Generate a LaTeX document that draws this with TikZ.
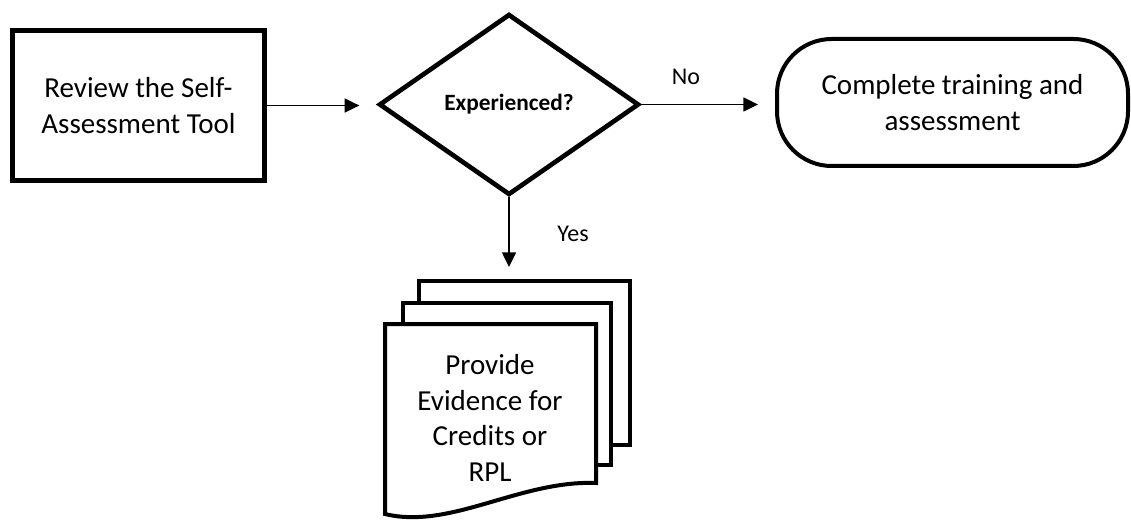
\documentclass[tikz,border=0pt]{standalone}
\usepackage{fontspec}
\setmainfont{Carlito}
\usetikzlibrary{shapes.geometric,arrows.meta}
\begin{document}
\begin{tikzpicture}[x=0.75pt,y=-0.75pt,
  boxtext/.style={font=\fontsize{21.75}{26.6}\selectfont, align=center},
  lbl/.style={font=\fontsize{18}{21}\selectfont},
  conn/.style={line width=1.1pt, -{Triangle[length=11pt,width=10.5pt]}},
  heavy/.style={draw, line width=3.5pt},
  medium/.style={draw, line width=3pt},
]
\useasboundingbox (0,0) rectangle (1131,520);
% process box
\node[heavy, minimum width=189pt, minimum height=112.5pt, inner sep=0pt, boxtext] (review) at (138.5,105.5) {Review the Self-\\Assessment Tool};
% decision
\node[heavy, diamond, minimum width=195pt, minimum height=135.75pt, inner sep=0pt, font=\bfseries\fontsize{17.5}{21}\selectfont] (dia) at (509,104.5) {Experienced?};
% terminal
\node[medium, rounded corners=41pt, minimum width=263.25pt, minimum height=95.25pt, inner sep=0pt, boxtext] (term) at (952.5,102.5) {Complete training and\\assessment};
% multi-document
\node[medium, fill=white, minimum width=158.25pt, minimum height=123pt, inner sep=0pt] (back) at (524.5,363) {};
\node[medium, fill=white, minimum width=156pt, minimum height=121.5pt, inner sep=0pt] (mid) at (507,384) {};
\draw[line width=3pt, fill=white] (385,324) -- (385,514) .. controls (450,530) and (520,480) .. (596,483) -- (596,324) -- cycle;
\node[boxtext] (doc) at (490,418) {Provide\\Evidence for\\Credits or\\RPL};
% labels
\node[lbl, anchor=base] (no) at (686,85) {No};
\node[lbl, anchor=base] (yes) at (573,242) {Yes};
% connectors
\draw[conn, shorten >=13pt] (review.east) -- (review.east -| dia.west);
\draw[conn, shorten >=12.75pt] (dia.east) -- (dia.east -| term.west);
\draw[conn, shorten >=9pt] (dia.south) -- (dia.south |- back.north);
\end{tikzpicture}
\end{document}
